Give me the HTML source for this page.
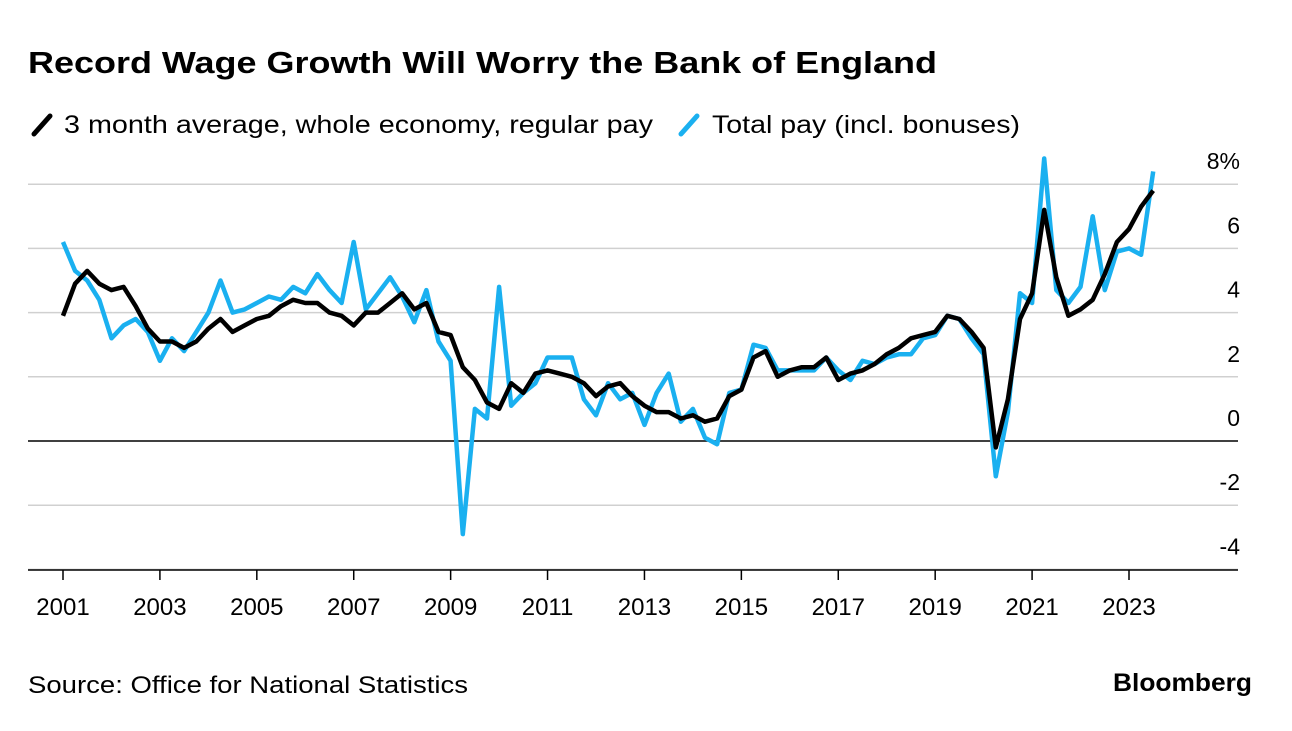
<!DOCTYPE html>
<html><head><meta charset="utf-8">
<style>
body{margin:0;background:#fff;width:1292px;height:726px;overflow:hidden;font-family:"Liberation Sans",sans-serif;}
</style></head>
<body>
<svg width="1292" height="726">
<text x="28" y="73" font-size="31" font-weight="bold" fill="#000" textLength="909" lengthAdjust="spacingAndGlyphs">Record Wage Growth Will Worry the Bank of England</text>
<g>
<line x1="34" y1="134" x2="50" y2="116" stroke="#000" stroke-width="5" stroke-linecap="round"/>
<text x="64" y="133" font-size="25" textLength="589" lengthAdjust="spacingAndGlyphs">3 month average, whole economy, regular pay</text>
<line x1="681" y1="134" x2="697" y2="116" stroke="#1ab0f0" stroke-width="5" stroke-linecap="round"/>
<text x="712" y="133" font-size="25" textLength="308" lengthAdjust="spacingAndGlyphs">Total pay (incl. bonuses)</text>
</g>
<g id="grid"></g>
<g id="series"></g>
<text x="28" y="693" font-size="24" textLength="440" lengthAdjust="spacingAndGlyphs">Source: Office for National Statistics</text>
<text x="1113" y="691" font-size="25" font-weight="bold" textLength="139" lengthAdjust="spacingAndGlyphs">Bloomberg</text>
</svg>
<script>
const yTicks=[8,6,4,2,0,-2,-4];
const xTickYears=[2001,2003,2005,2007,2009,2011,2013,2015,2017,2019,2021,2023];
const startYear=2001;
const regularPay=[3.9,4.9,5.3,4.9,4.7,4.8,4.2,3.5,3.1,3.1,2.9,3.1,3.5,3.8,3.4,3.6,3.8,3.9,4.2,4.4,4.3,4.3,4.0,3.9,3.6,4.0,4.0,4.3,4.6,4.1,4.3,3.4,3.3,2.3,1.9,1.2,1.0,1.8,1.5,2.1,2.2,2.1,2.0,1.8,1.4,1.7,1.8,1.4,1.1,0.9,0.9,0.7,0.8,0.6,0.7,1.4,1.6,2.6,2.8,2.0,2.2,2.3,2.3,2.6,1.9,2.1,2.2,2.4,2.7,2.9,3.2,3.3,3.4,3.9,3.8,3.4,2.9,-0.2,1.3,3.8,4.6,7.2,5.1,3.9,4.1,4.4,5.2,6.2,6.6,7.3,7.8];
const totalPay=[6.2,5.3,5.0,4.4,3.2,3.6,3.8,3.4,2.5,3.2,2.8,3.4,4.0,5.0,4.0,4.1,4.3,4.5,4.4,4.8,4.6,5.2,4.7,4.3,6.2,4.1,4.6,5.1,4.5,3.7,4.7,3.1,2.5,-2.9,1.0,0.7,4.8,1.1,1.5,1.8,2.6,2.6,2.6,1.3,0.8,1.8,1.3,1.5,0.5,1.5,2.1,0.6,1.0,0.1,-0.1,1.5,1.6,3.0,2.9,2.2,2.2,2.2,2.2,2.6,2.2,1.9,2.5,2.4,2.6,2.7,2.7,3.2,3.3,3.9,3.8,3.2,2.7,-1.1,0.9,4.6,4.3,8.8,4.7,4.3,4.8,7.0,4.7,5.9,6.0,5.8,8.4];
const NS="http://www.w3.org/2000/svg";
const xS=t=>63+(t-2001)*(1129-63)/22;
const yS=v=>441-v*32.1;
function mk(tag,attrs,parent){const e=document.createElementNS(NS,tag);for(const k in attrs)e.setAttribute(k,attrs[k]);parent.appendChild(e);return e;}
const grid=document.getElementById('grid');
yTicks.forEach(v=>{
  const l=mk('line',{x1:28,x2:1238,y1:yS(v),y2:yS(v),stroke:v===0?'#000':'#d0d0d0','stroke-width':1.5},grid);
  
  
  const t=mk('text',{x:1240,y:yS(v)-15,'font-size':23,'text-anchor':'end'},grid);
  t.textContent=(v===8?'8%':String(v));
  
  
});
const ax=mk('line',{x1:28,x2:1238,y1:570,y2:570,stroke:'#000','stroke-width':1.5},grid);


xTickYears.forEach(y=>{
  const tk=mk('line',{x1:xS(y),x2:xS(y),y1:570,y2:580,stroke:'#000','stroke-width':1.5},grid);
  
  
  const t=mk('text',{x:xS(y),y:615,'font-size':24,'text-anchor':'middle'},grid);
  t.textContent=y;
  
  
});
const ser=document.getElementById('series');
function line(arr,color,name){
  const d=arr.map((v,i)=>(i?'L':'M')+xS(startYear+i/4).toFixed(1)+','+yS(v).toFixed(1)).join('');
  const p=mk('path',{d:d,fill:'none',stroke:color,'stroke-width':4.5,'stroke-linejoin':'round'},ser);
  
  
}
line(totalPay,'#1ab0f0','total-pay-line');
line(regularPay,'#000','regular-pay-line');
</script>
</body></html>
